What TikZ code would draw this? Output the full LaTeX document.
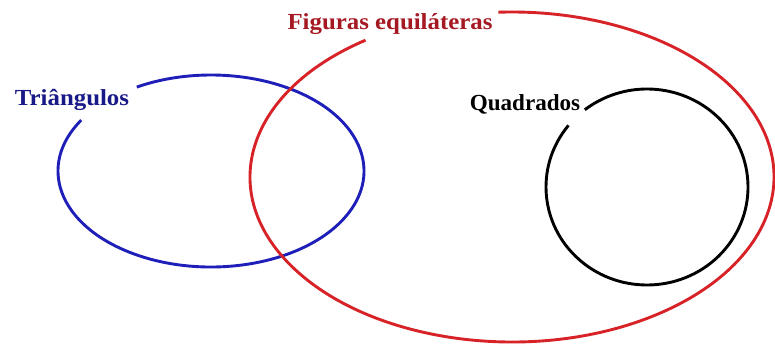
\documentclass[tikz,border=0pt]{standalone}
\usepackage{fontspec}
\setmainfont{Liberation Serif}
\definecolor{triblue}{RGB}{30,30,185}
\definecolor{trilabel}{RGB}{25,25,135}
\definecolor{figred}{RGB}{215,35,40}
\definecolor{figlabel}{RGB}{165,25,35}
\usetikzlibrary{positioning}
\tikzset{
  setlabel/.style={font=\fontsize{23}{23}\selectfont\bfseries,anchor=base,inner sep=0pt,xscale=1.08},
  setline/.style={line width=2.9pt}
}
\begin{document}
\begin{tikzpicture}[x=1pt,y=1pt]
  \useasboundingbox (0,0) rectangle (775,343);
  \coordinate (tri) at (211,172);
  \coordinate (fig) at (512,166);
  \coordinate (quad) at (647,156);
  % conjuntos
  \draw[setline,triblue] ([shift={(148:153 and 96)}]tri)
    arc[start angle=148,end angle=479,x radius=153,y radius=96];
  \draw[setline,figred] ([shift={(124:262 and 165)}]fig)
    arc[start angle=124,end angle=453,x radius=262,y radius=165];
  \draw[setline,black] ([shift={(141:101 and 98)}]quad)
    arc[start angle=141,end angle=488,x radius=101,y radius=98];
  % nomes
  \node[setlabel,text=trilabel] (trilbl) at (72,237) {Triângulos};
  \node[setlabel,text=figlabel] (figlbl) at (390,313) {Figuras equiláteras};
  \node[setlabel,text=black,xscale=0.93] (quadlbl) at (525,232) {Quadrados};
\end{tikzpicture}
\end{document}
